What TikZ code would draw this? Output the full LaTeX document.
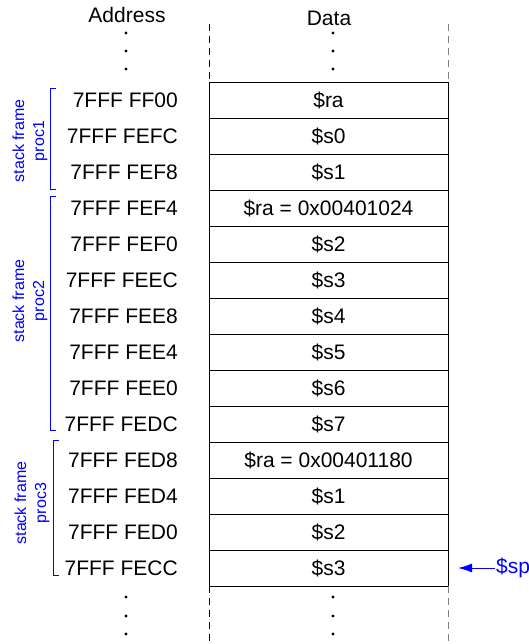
\documentclass[tikz,border=0pt]{standalone}
\usepackage{fontspec}
\setmainfont{Liberation Sans}
\usetikzlibrary{arrows.meta, positioning}

\begin{document}
\begin{tikzpicture}[
    x=1pt, y=-1pt,
    cell/.style={rectangle, draw=black, line width=0.9pt, minimum width=239pt, minimum height=36pt, inner sep=0pt, outer sep=0pt, font=\fontsize{21}{25}\selectfont},
    addr/.style={inner sep=0pt, font=\fontsize{21}{25}\selectfont},
    head/.style={anchor=base, font=\fontsize{21}{25}\selectfont},
    frame/.style={draw=blue, line width=0.8pt},
    framelabel/.style={blue, rotate=90, align=center, font=\fontsize{16}{20}\selectfont},
    pointer/.style={blue, inner sep=1pt, font=\fontsize{21}{25}\selectfont},
    ptr/.style={draw=blue, line width=1pt, -{Latex[length=14pt, width=9pt]}},
    border/.style={line width=0.9pt, dash pattern=on 7pt off 5pt},
]
    \useasboundingbox (0,0) rectangle (528,644);

    % Headings
    \node[head] (addrhead) at (127,23) {Address};
    \node[head] (datahead) at (329,26) {Data};

    % Memory cells
    \node[cell] (c1) at (328.5,100) {\$ra};
    \node[cell, below=0pt of c1] (c2) {\$s0};
    \node[cell, below=0pt of c2] (c3) {\$s1};
    \node[cell, below=0pt of c3] (c4) {\$ra = 0x00401024};
    \node[cell, below=0pt of c4] (c5) {\$s2};
    \node[cell, below=0pt of c5] (c6) {\$s3};
    \node[cell, below=0pt of c6] (c7) {\$s4};
    \node[cell, below=0pt of c7] (c8) {\$s5};
    \node[cell, below=0pt of c8] (c9) {\$s6};
    \node[cell, below=0pt of c9] (c10) {\$s7};
    \node[cell, below=0pt of c10] (c11) {\$ra = 0x00401180};
    \node[cell, below=0pt of c11] (c12) {\$s1};
    \node[cell, below=0pt of c12] (c13) {\$s2};
    \node[cell, below=0pt of c13] (c14) {\$s3};

    % Addresses
    \node[addr, left=31pt of c1] (a1) {7FFF FF00};
    \node[addr, left=31pt of c2] (a2) {7FFF FEFC};
    \node[addr, left=31pt of c3] (a3) {7FFF FEF8};
    \node[addr, left=31pt of c4] (a4) {7FFF FEF4};
    \node[addr, left=31pt of c5] (a5) {7FFF FEF0};
    \node[addr, left=31pt of c6] (a6) {7FFF FEEC};
    \node[addr, left=31pt of c7] (a7) {7FFF FEE8};
    \node[addr, left=31pt of c8] (a8) {7FFF FEE4};
    \node[addr, left=31pt of c9] (a9) {7FFF FEE0};
    \node[addr, left=31pt of c10] (a10) {7FFF FEDC};
    \node[addr, left=31pt of c11] (a11) {7FFF FED8};
    \node[addr, left=31pt of c12] (a12) {7FFF FED4};
    \node[addr, left=31pt of c13] (a13) {7FFF FED0};
    \node[addr, left=31pt of c14] (a14) {7FFF FECC};

    % Open ends of the stack
    \coordinate (lt) at (c1.north west |- 0,24);
    \coordinate (rt) at (c1.north east |- 0,24);
    \coordinate (lb) at (c14.south west |- 0,644);
    \coordinate (rb) at (c14.south east |- 0,644);
    \draw[border] (lt) -- (c1.north west);
    \draw[border, gray] (rt) -- (c1.north east);
    \draw[border] (c14.south west) -- (lb);
    \draw[border, gray] (c14.south east) -- (rb);

    % Dots
    \fill (126,33) circle (1.6pt) (126,51) circle (1.6pt) (126,69) circle (1.6pt);
    \fill (333,33) circle (1.6pt) (333,51) circle (1.6pt) (333,69) circle (1.6pt);
    \fill (126,597) circle (1.6pt) (126,616) circle (1.6pt) (126,634) circle (1.6pt);
    \fill (333,597) circle (1.6pt) (333,616) circle (1.6pt) (333,634) circle (1.6pt);

    % Stack frames
    \draw[frame] (56,88) -- (50,88) -- (50,189) -- (56,189);
    \draw[frame] (56,196) -- (50,196) -- (50,430) -- (56,430);
    \draw[frame] (59,440) -- (53,440) -- (53,575) -- (59,575);
    \node[framelabel] (f1) at (30,141) {stack frame\\proc1};
    \node[framelabel] (f2) at (30,301) {stack frame\\proc2};
    \node[framelabel] (f3) at (32,503) {stack frame\\proc3};

    % Stack pointer
    \node[pointer, right=47pt of c14] (sp) {\$sp};
    \draw[ptr] (sp) -- ([xshift=10pt]c14.east);
\end{tikzpicture}
\end{document}
